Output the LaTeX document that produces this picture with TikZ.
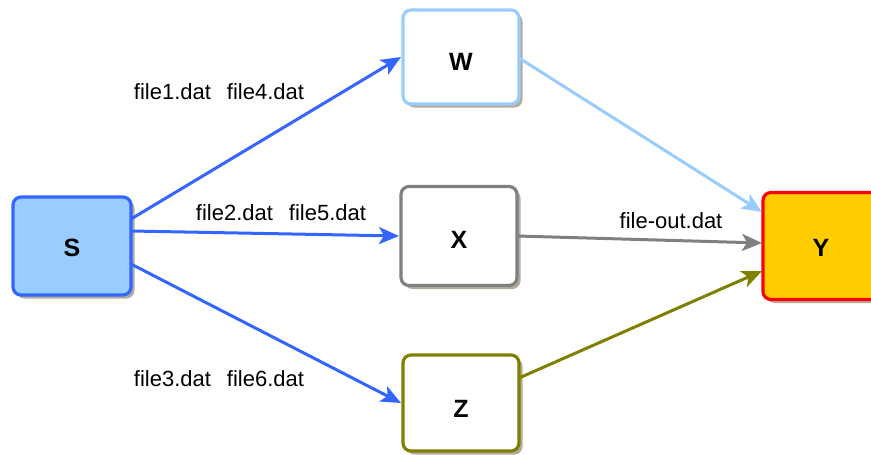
\documentclass[tikz,border=0pt]{standalone}
\usepackage{fontspec}
\setmainfont{Liberation Sans}
\usetikzlibrary{calc,arrows.meta,shadows}

\definecolor{skyfill}{HTML}{99CCFF}
\definecolor{royal}{HTML}{3366FF}
\definecolor{midgray}{HTML}{808080}
\definecolor{olive}{HTML}{808000}
\definecolor{amber}{HTML}{FFCC00}
\definecolor{alarm}{HTML}{FF0000}
\definecolor{shade}{HTML}{B4AC9E}

% box caption lowered slightly below the geometric centre
\newcommand{\boxcap}[2]{\raisebox{-#1pt}[\height][0pt]{#2}}

\tikzset{
  box/.style={rectangle, rounded corners=8pt, line width=3.2pt, fill=white,
    minimum width=116pt, minimum height=96pt, inner sep=0pt, outer sep=0pt,
    font=\fontsize{25}{30}\selectfont\bfseries,
    drop shadow={shadow xshift=3.5pt, shadow yshift=-3.5pt, fill=shade, opacity=1}},
  flow/.style={line width=3pt, -{Stealth[length=20pt, width=17pt, inset=5pt]}},
  lbl/.style={inner sep=0pt, font=\fontsize{22}{26}\selectfont},
}

\begin{document}
\begin{tikzpicture}[x=1pt, y=-1pt]
  \clip (0,0) rectangle (871,455);
  \fill[white] (0,0) rectangle (871,455);

  % processing boxes
  \node[box, draw=royal, fill=skyfill, minimum width=118pt, minimum height=98pt] (S) at (72,246) {\boxcap{2}{S}};
  \node[box, draw=skyfill, minimum height=94pt] (W) at (461,57) {\boxcap{5}{W}};
  \node[box, draw=midgray, minimum height=99pt] (X) at (459,236) {\boxcap{4}{X}};
  \node[box, draw=olive] (Z) at (461,403) {\boxcap{6}{Z}};
  \node[box, draw=alarm, fill=amber, minimum height=107pt] (Y) at (821,246) {\boxcap{2}{Y}};

  % file transfers
  \draw[flow, royal] ($(S.east)+(0,-27)$) -- ($(W.west)+(-2,0)$);
  \draw[flow, royal] ($(S.east)+(0,-15)$) -- ($(X.west)+(-2,0)$);
  \draw[flow, royal] ($(S.east)+(0,18)$) -- ($(Z.west)+(-2,0)$);
  \draw[flow, skyfill] ($(W.east)+(0,1)$) -- ($(Y.west)+(-1,-34)$);
  \draw[flow, midgray] (X.east) -- ($(Y.west)+(-1,-3)$);
  \draw[flow, olive] ($(Z.east)+(0,-25)$) -- ($(Y.west)+(-1,25)$);

  % labels
  \node[lbl] (l1) at (219,92) {file1.dat\hspace{16pt}file4.dat};
  \node[lbl] (l2) at (281,213) {file2.dat\hspace{16pt}file5.dat};
  \node[lbl] (l3) at (219,379) {file3.dat\hspace{16pt}file6.dat};
  \node[lbl] (l4) at (671,221) {file-out.dat};
\end{tikzpicture}
\end{document}
